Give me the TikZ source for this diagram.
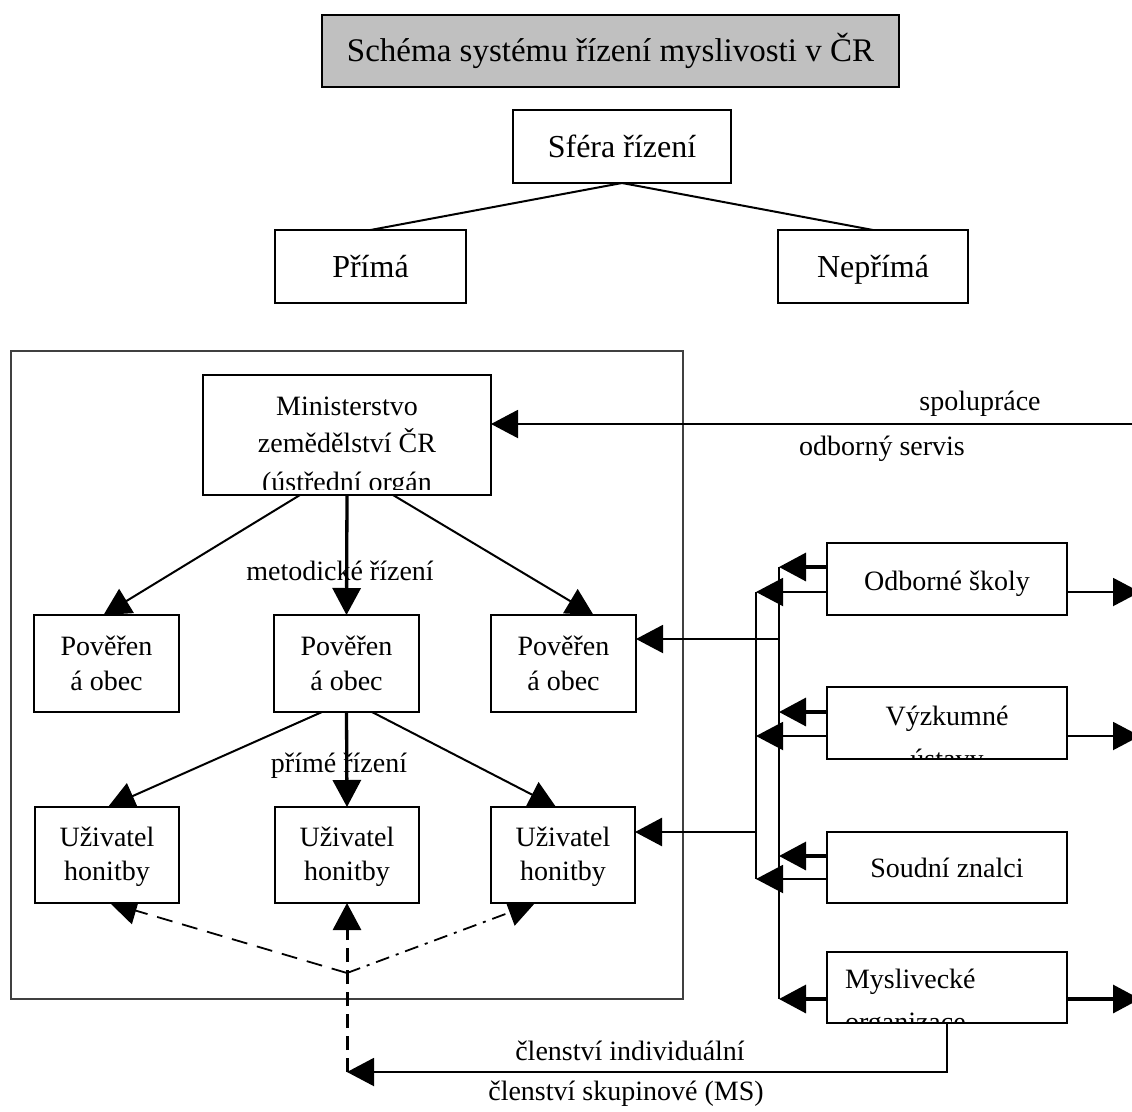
\documentclass[tikz,border=0pt]{standalone}
\usepackage{fontspec}
\setmainfont{Liberation Serif}
\usetikzlibrary{arrows.meta}
\definecolor{titlegray}{HTML}{C0C0C0}
\begin{document}
\begin{tikzpicture}[x=1pt,y=-1pt,
  bx/.style={draw, line width=1.8pt, fill=white, inner sep=0pt, outer sep=0pt},
  txt/.style={inner sep=0pt, outer sep=0pt, anchor=base, font=\fontsize{28}{34}\selectfont},
  big/.style={font=\fontsize{32}{38}\selectfont, text height=21.2pt, text depth=0pt},
  tip/.style={-{Triangle[length=27pt,width=28pt]}},
  arr/.style={tip, line width=2pt},
  thk/.style={tip, line width=3.3pt},
  conn/.style={line width=2pt},
  bus/.style={line width=2.6pt},
]
\useasboundingbox (0,0) rectangle (1132,1111);
\fill[white] (0,0) rectangle (1132,1111);
\clip (0,0) rectangle (1132,1111);

% ---------- top part ----------
\node[bx, fill=titlegray, minimum width=577pt, minimum height=72pt, font=\fontsize{33}{38}\selectfont, text height=21.8pt, text depth=0pt] (title) at (610.5,51) {Schéma systému řízení myslivosti v ČR};
\node[bx, big, minimum width=218pt, minimum height=73pt] (sf) at (622,146.5) {Sféra řízení};
\node[bx, big, minimum width=191pt, minimum height=73pt] (pri) at (370.5,266.5) {Přímá};
\node[bx, big, minimum width=190pt, minimum height=73pt] (npri) at (873,266.5) {Nepřímá};
\draw[conn] (sf.south) -- (pri.north);
\draw[conn] (sf.south) -- (npri.north);

% ---------- frame ----------
\draw[line width=1.3pt, black!75] (11,351) rectangle (683,999);

% ---------- labels under arrows ----------
\node[txt] (lmet) at (340,580) {metodické řízení};
\node[txt] (lpri) at (339,772) {přímé řízení};

% ---------- box placeholders (for coordinates) ----------
\path (347,435) node[minimum width=288pt, minimum height=120pt, inner sep=0pt, outer sep=0pt] (min) {};
\path (106.5,663.5) node[minimum width=143pt, minimum height=97pt, inner sep=0pt, outer sep=0pt] (pL) {};
\path (346.5,663.5) node[minimum width=145pt, minimum height=97pt, inner sep=0pt, outer sep=0pt] (pM) {};
\path (563.5,663.5) node[minimum width=145pt, minimum height=97pt, inner sep=0pt, outer sep=0pt] (pR) {};
\path (107,855) node[minimum width=144pt, minimum height=96pt, inner sep=0pt, outer sep=0pt] (uL) {};
\path (347,855) node[minimum width=144pt, minimum height=96pt, inner sep=0pt, outer sep=0pt] (uM) {};
\path (563,855) node[minimum width=144pt, minimum height=96pt, inner sep=0pt, outer sep=0pt] (uR) {};
\path (947,579) node[minimum width=240pt, minimum height=72pt, inner sep=0pt, outer sep=0pt] (odb) {};
\path (947,723) node[minimum width=240pt, minimum height=72pt, inner sep=0pt, outer sep=0pt] (vyz) {};
\path (947,867.5) node[minimum width=240pt, minimum height=71pt, inner sep=0pt, outer sep=0pt] (sou) {};
\path (947,987.5) node[minimum width=240pt, minimum height=71pt, inner sep=0pt, outer sep=0pt] (mys) {};

% ---------- connectors inside frame ----------
\draw[arr] ([xshift=-47pt]min.south) -- ([xshift=-3pt]pL.north);
\draw[thk] (min.south) -- (pM.north);
\draw[arr] ([xshift=46pt]min.south) -- ([xshift=30pt]pR.north);
\draw[arr] ([xshift=-24.5pt]pM.south) -- ([xshift=1pt]uL.north);
\draw[thk] (pM.south) -- (uM.north);
\draw[arr] ([xshift=25.5pt]pM.south) -- ([xshift=-7pt]uR.north);

% ---------- spolupráce ----------
\coordinate (eR) at (1140,424);
\draw[arr] (eR) -- ([yshift=11pt]min.east);
\begin{scope}
  \clip (880,380) rectangle (1100,421.5);
  \node[txt] (lspol) at (980,410) {spolupráce};
\end{scope}
\node[txt] (lserv) at (882,455) {odborný servis};

% ---------- right side buses ----------
\coordinate (bA1) at (756,592);
\coordinate (bA2) at (756,879);
\coordinate (bB1) at (779,567);
\coordinate (bB2) at (779,999);
\draw[bus] (bA1) -- (bA2);
\draw[bus] (bB1) -- (bB2);

\coordinate (oT) at ([yshift=12pt]odb.west);
\coordinate (oB) at ([yshift=-13pt]odb.west);
\coordinate (vT) at ([yshift=11pt]vyz.west);
\coordinate (vB) at ([yshift=-13pt]vyz.west);
\coordinate (sT) at ([yshift=11.5pt]sou.west);
\coordinate (sB) at ([yshift=-11.5pt]sou.west);
\coordinate (mT) at ([yshift=-11.5pt]mys.west);
\draw[thk] (oT) -- (oT -| bB1);
\draw[arr] (oB) -- (oB -| bA1);
\draw[thk] (vT) -- (vT -| bB1);
\draw[arr] (vB) -- (vB -| bA1);
\draw[thk] (sT) -- (sT -| bB1);
\draw[arr] (sB) -- (sB -| bA1);
\draw[thk] (mT) -- (mT -| bB1);

% arrows leaving to the right edge
\coordinate (oR) at ([yshift=-13pt]odb.east);
\coordinate (vR) at ([yshift=-13pt]vyz.east);
\coordinate (mR) at ([yshift=-11.5pt]mys.east);
\draw[arr] (oR) -- (oR -| eR);
\draw[arr] (vR) -- (vR -| eR);
\draw[thk] (mR) -- (mR -| eR);

% arrows into the frame
\coordinate (pRe) at ([yshift=24.5pt]pR.east);
\coordinate (uRe) at ([yshift=23pt]uR.east);
\draw[arr] (pRe -| bB1) -- (pRe);
\draw[tip, line width=2.6pt] (uRe -| bA1) -- (uRe);

% ---------- bottom membership lines ----------
\coordinate (meet) at (347,973);
\coordinate (dB) at (347,1072);
\coordinate (cB) at (947,1072);
\draw[arr] (mys.south) -- (cB) -- (dB);
\draw[tip, line width=3pt, dash pattern=on 14pt off 8pt] (dB) -- (uM.south);
\draw[tip, line width=1.8pt, dash pattern=on 16pt off 10pt] (meet) -- ([xshift=3pt]uL.south);
\draw[tip, line width=1.8pt, dash pattern=on 14pt off 7pt on 3pt off 7pt] (meet) -- ([xshift=-28pt]uR.south);
\node[txt] (lind) at (630,1060) {členství individuální};
\node[txt] (lskup) at (626,1100) {členství skupinové (MS)};

% ---------- boxes drawn on top ----------
\node[bx, minimum width=288pt, minimum height=120pt] (minB) at (min) {};
\begin{scope}
  \clip (204,376) rectangle (490,489);
  \node[txt] (m1) at (347,415) {Ministerstvo};
  \node[txt] (m2) at (347,452) {zemědělství ČR};
  \node[txt] (m3) at (347,491) {(ústřední orgán};
\end{scope}

\foreach \n in {pL,pM,pR}{
  \node[bx, minimum width=145pt, minimum height=97pt] (\n B) at (\n) {};
  \node[txt] (\n1) at ([yshift=8.5pt]\n) {Pověřen};
  \node[txt] (\n2) at ([yshift=-26.5pt]\n) {á obec};
}
\foreach \n in {uL,uM,uR}{
  \node[bx, minimum width=144pt, minimum height=96pt] (\n B) at (\n) {};
  \node[txt] (\n1) at ([yshift=9pt]\n) {Uživatel};
  \node[txt] (\n2) at ([yshift=-25pt]\n) {honitby};
}

\node[bx, minimum width=240pt, minimum height=72pt] (odbB) at (odb) {};
\node[txt] (odbT) at (947,590) {Odborné školy};
\node[bx, minimum width=240pt, minimum height=72pt] (vyzB) at (vyz) {};
\begin{scope}
  \clip (828,688) rectangle (1066,757);
  \node[txt] (v1) at (947,725) {Výzkumné};
  \node[txt] (v2) at (947,768) {ústavy};
\end{scope}
\node[bx, minimum width=240pt, minimum height=71pt] (souB) at (sou) {};
\node[txt] (souT) at (947,877) {Soudní znalci};
\node[bx, minimum width=240pt, minimum height=71pt] (mysB) at (mys) {};
\begin{scope}
  \clip (828,953) rectangle (1066,1021);
  \node[txt, anchor=base west] (my1) at (845,988) {Myslivecké};
  \node[txt, anchor=base west] (my2) at (845,1031) {organizace};
\end{scope}
\end{tikzpicture}
\end{document}
